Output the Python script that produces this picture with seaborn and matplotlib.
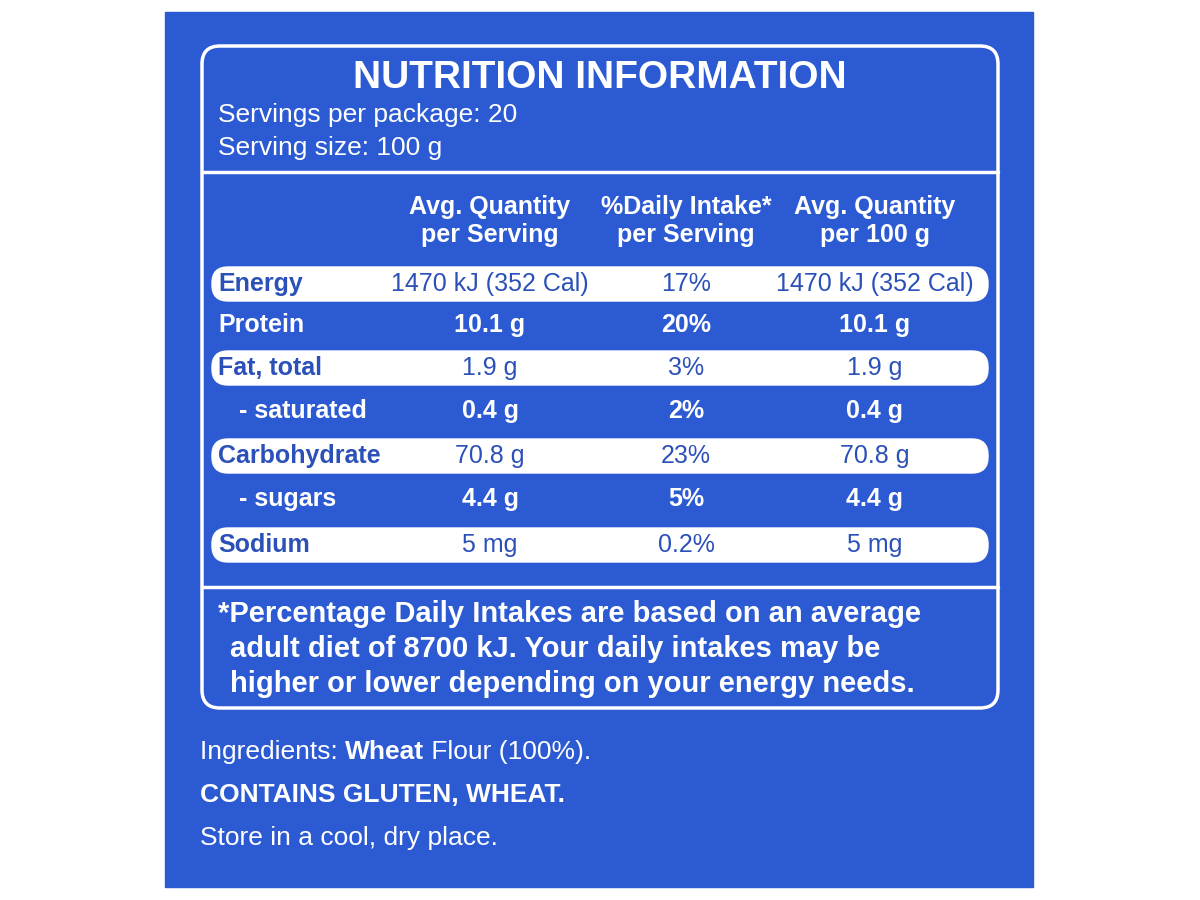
import matplotlib
matplotlib.use("Agg")
import matplotlib.pyplot as plt
from matplotlib.patches import FancyBboxPatch, Rectangle
import seaborn as sns

sns.set_theme(style="white")
plt.rcParams['font.family'] = ['Liberation Sans', 'DejaVu Sans']

# label contents
title = "NUTRITION INFORMATION"
servings = ["Servings per package: 20", "Serving size: 100 g"]
col_heads = ["Avg. Quantity\nper Serving", "%Daily Intake*\nper Serving", "Avg. Quantity\nper 100 g"]
nutrients = ["Energy", "Protein", "Fat, total", "   - saturated", "Carbohydrate", "   - sugars", "Sodium"]
per_serving = ["1470 kJ (352 Cal)", "10.1 g", "1.9 g", "0.4 g", "70.8 g", "4.4 g", "5 mg"]
daily_intake = ["17%", "20%", "3%", "2%", "23%", "5%", "0.2%"]
per_100g = ["1470 kJ (352 Cal)", "10.1 g", "1.9 g", "0.4 g", "70.8 g", "4.4 g", "5 mg"]
highlighted = [True, False, True, False, True, False, True]
footnote = ["*Percentage Daily Intakes are based on an average",
            "adult diet of 8700 kJ. Your daily intakes may be",
            "higher or lower depending on your energy needs."]

blue = "#2c5ad2"
text_blue = "#2b50b8"

fig = plt.figure(figsize=(12, 9), dpi=100)
ax = fig.add_axes([0, 0, 1, 1])
ax.set_xlim(0, 1200)
ax.set_ylim(900, 0)
ax.axis("off")

ax.add_patch(Rectangle((165, 12), 868, 875, color=blue, zorder=0))
ax.add_patch(FancyBboxPatch((202, 46), 796, 662, boxstyle="round,pad=0,rounding_size=18",
                            fill=False, ec="white", lw=2.5, zorder=1))

ax.text(600, 78, title, color="white", fontsize=28, fontweight="bold",
        ha="center", va="center")
for i, s in enumerate(servings):
    ax.text(218, 115 + 33 * i, s, color="white", fontsize=19, ha="left", va="center")
ax.plot([202, 998], [172, 172], color="white", lw=2.5)

cols = [490, 686, 875]
for x, h in zip(cols, col_heads):
    ax.text(x, 221, h, color="white", fontsize=18, fontweight="bold", ha="center",
            va="center", linespacing=1.2)

row_y = [284, 325, 368, 411, 456, 499, 545]
for y, name, a, b, c, hl in zip(row_y, nutrients, per_serving, daily_intake, per_100g, highlighted):
    if hl:
        ax.add_patch(FancyBboxPatch((212, y - 17), 776, 34,
                                    boxstyle="round,pad=0,rounding_size=16",
                                    fc="white", ec="white", zorder=1))
        tc, fw = text_blue, "normal"
    else:
        tc, fw = "white", "bold"
    ax.text(218, y, name, color=tc, fontsize=18, fontweight="bold", ha="left", va="center", zorder=2)
    for x, v in zip(cols, (a, b, c)):
        ax.text(x, y, v, color=tc, fontsize=18, fontweight=fw, ha="center", va="center", zorder=2)

ax.plot([202, 998], [587, 587], color="white", lw=2.5)
for i, s in enumerate(footnote):
    ax.text(218 if i == 0 else 230, 614 + 35 * i, s, color="white", fontsize=21,
            fontweight="bold", ha="left", va="center")

t1 = ax.text(200, 752, "Ingredients: ", color="white", fontsize=19, ha="left", va="center")
t2 = ax.annotate("Wheat", xy=(1, 0.5), xycoords=t1, color="white", fontsize=19,
                 fontweight="bold", ha="left", va="center")
ax.annotate(" Flour (100%).", xy=(1, 0.5), xycoords=t2, color="white", fontsize=19,
            ha="left", va="center")
ax.text(200, 795, "CONTAINS GLUTEN, WHEAT.", color="white", fontsize=19, fontweight="bold",
        ha="left", va="center")
ax.text(200, 838, "Store in a cool, dry place.", color="white", fontsize=19, ha="left", va="center")

fig.savefig("out.png", dpi=100, facecolor="white")
